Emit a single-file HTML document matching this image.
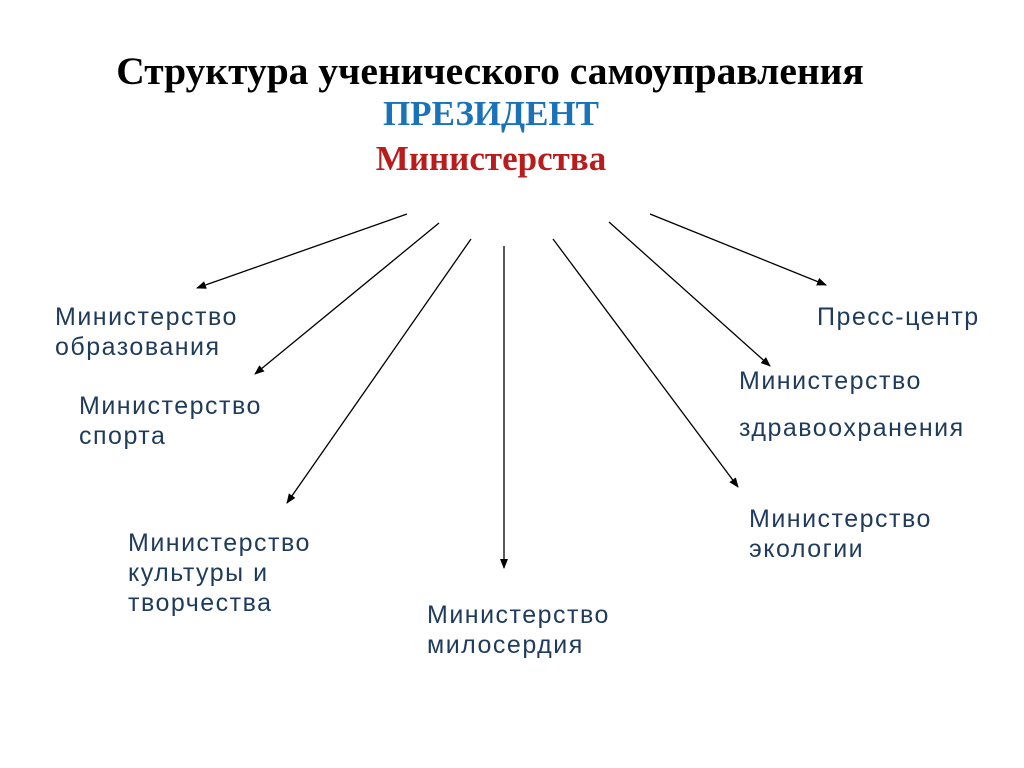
<!DOCTYPE html>
<html><head><meta charset="utf-8"><style>
body{margin:0;width:1024px;height:768px;background:#fff;position:relative;overflow:hidden}
.t{position:absolute;font-family:"Liberation Serif",serif;font-weight:bold;white-space:nowrap;transform:translateX(-50%)}
.l{position:absolute;font-family:"Liberation Sans","DejaVu Sans",sans-serif;font-size:25px;color:#1f3b5c;line-height:30px;white-space:nowrap;letter-spacing:1.5px}
</style></head><body>
<div class="t" style="left:490px;top:48px;font-size:39.5px;color:#000">Структура ученического самоуправления</div>
<div class="t" style="left:491px;top:94px;font-size:35px;color:#1a72b8">ПРЕЗИДЕНТ</div>
<div class="t" style="left:491px;top:139px;font-size:35px;color:#b81c1c">Министерства</div>
<svg width="1024" height="768" style="position:absolute;left:0;top:0">
<defs><marker id="a" markerWidth="10" markerHeight="8" refX="9" refY="4" orient="auto" markerUnits="userSpaceOnUse"><path d="M0,0L10,4L0,8z" fill="#000"/></marker></defs>
<g stroke="#000" stroke-width="1.3" marker-end="url(#a)">
<line x1="407" y1="214" x2="197" y2="288"/>
<line x1="439" y1="223" x2="255" y2="374"/>
<line x1="471" y1="239" x2="287" y2="503"/>
<line x1="504" y1="246" x2="504" y2="568"/>
<line x1="553" y1="239" x2="738" y2="487"/>
<line x1="609" y1="222" x2="770" y2="366"/>
<line x1="650" y1="214" x2="826" y2="285"/>
</g></svg>
<div class="l" style="left:55px;top:302px">Министерство<br>образования</div>
<div class="l" style="left:79px;top:391px">Министерство<br>спорта</div>
<div class="l" style="left:128px;top:528px">Министерство<br>культуры и<br>творчества</div>
<div class="l" style="left:427px;top:600px">Министерство<br>милосердия</div>
<div class="l" style="left:749px;top:504px">Министерство<br>экологии</div>
<div class="l" style="left:739px;top:366px">Министерство</div>
<div class="l" style="left:739px;top:413px">здравоохранения</div>
<div class="l" style="left:817px;top:302px">Пресс-центр</div>
</body></html>
